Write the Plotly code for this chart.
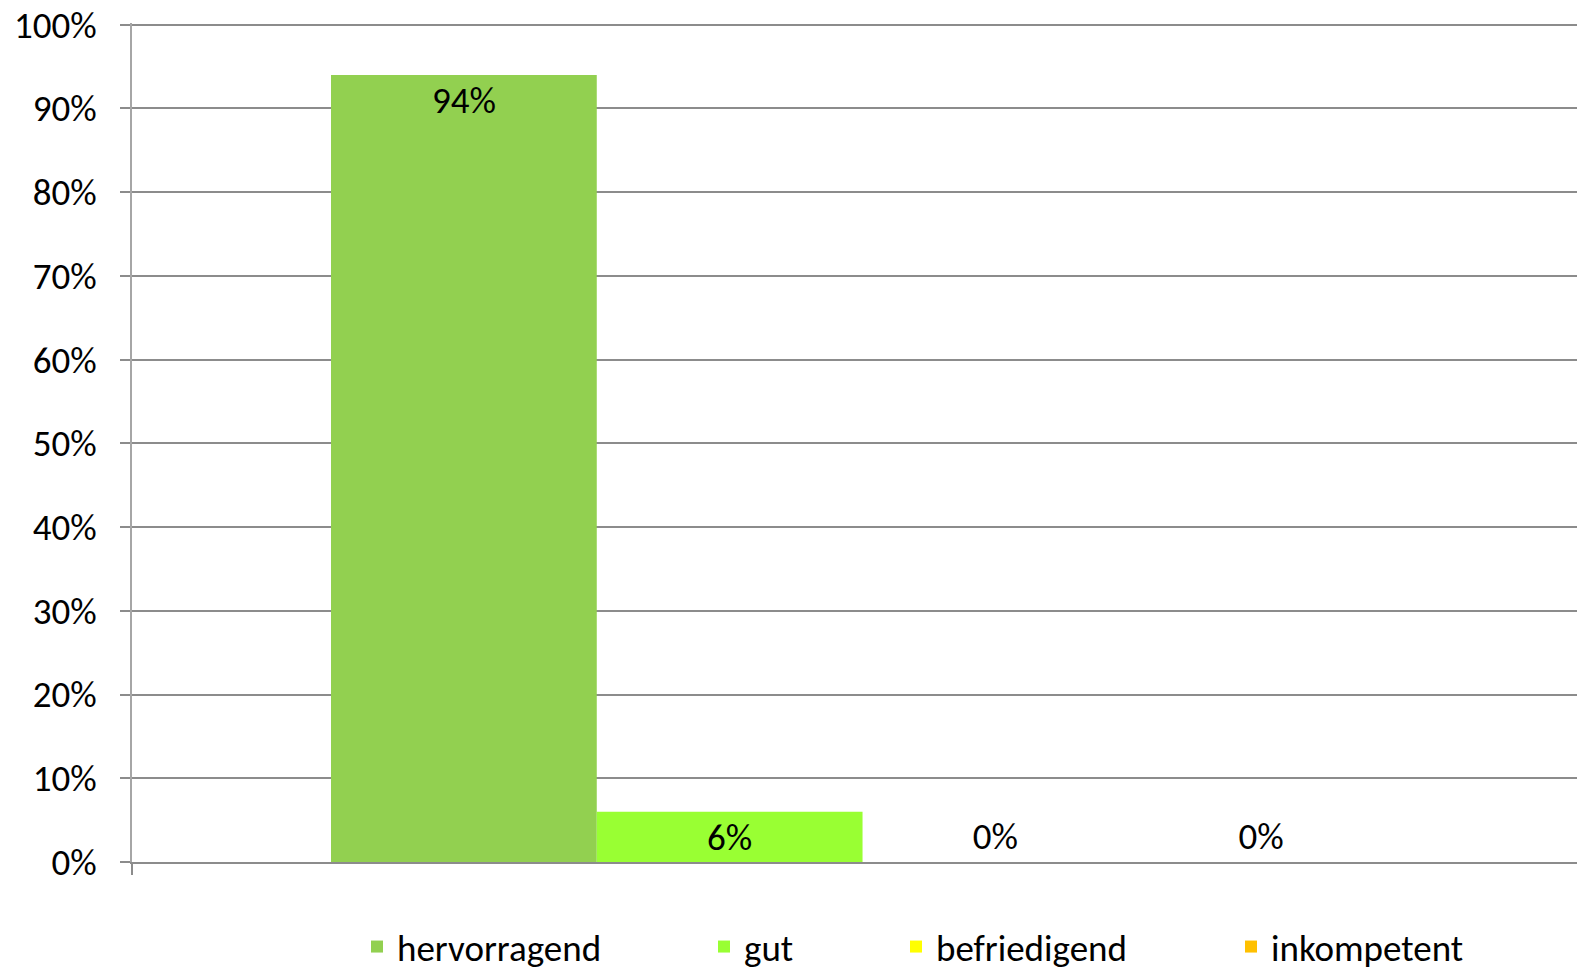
import plotly.graph_objects as go

categories = [""]
series_names = ["hervorragend", "gut", "befriedigend", "inkompetent"]
series_values = [0.94, 0.06, 0.0, 0.0]
series_colors = ["#92D050", "#99FF33", "#FFFF00", "#FFC000"]
y_ticks = [0, 0.1, 0.2, 0.3, 0.4, 0.5, 0.6, 0.7, 0.8, 0.9, 1.0]

FONT = "Carlito, Calibri, Lato, sans-serif"
FS = 37
W, H = 1577, 970
ML, MR, MT, MB = 132, 0, 23, 108
legend_text_x = [398, 745, 937, 1272]

fig = go.Figure()
legend_ids = ["legend", "legend2", "legend3", "legend4"]
for i, (name, val, col) in enumerate(zip(series_names, series_values, series_colors)):
    fig.add_trace(go.Bar(
        x=categories, y=[val], name=name,
        marker=dict(color=col, line=dict(width=0)),
        texttemplate="%{y:.0%}",
        textposition="inside" if val > 0 else "outside",
        insidetextanchor="end",
        textfont=dict(family=FONT, size=FS, color="black"),
        outsidetextfont=dict(family=FONT, size=FS, color="black"),
        insidetextfont=dict(family=FONT, size=FS, color="black"),
        cliponaxis=False,
        legend=legend_ids[i],
        showlegend=True,
        hoverinfo="skip",
    ))

pw = W - ML - MR
ph = H - MT - MB
layout_legends = {}
for i, lid in enumerate(legend_ids):
    layout_legends[lid] = dict(
        orientation="h",
        x=(legend_text_x[i] - 41 - ML) / pw,
        xanchor="left",
        y=(ph - (947 - MT)) / ph,
        yanchor="middle",
        font=dict(family=FONT, size=FS, color="black"),
        bgcolor="rgba(0,0,0,0)",
        borderwidth=0,
        itemclick=False,
        visible=True,
    )

fig.update_layout(
    width=W, height=H,
    showlegend=True,
    margin=dict(l=ML, r=MR, t=MT, b=MB, pad=0, autoexpand=False),
    paper_bgcolor="white", plot_bgcolor="white",
    barmode="group", bargap=0.2724, bargroupgap=0,
    uniformtext=dict(minsize=FS, mode="show"),
    font=dict(family=FONT, size=FS, color="black"),
    **layout_legends,
)
fig.update_xaxes(
    type="category", range=[-0.5, 0.489],
    showline=True, linecolor="#8c8c8c", linewidth=2,
    showgrid=False, zeroline=False,
    tickmode="array", tickvals=[-0.5], ticktext=[""],
    ticks="outside", ticklen=11, tickcolor="#8c8c8c", tickwidth=2,
)
fig.update_yaxes(
    range=[0, 1.002], tickvals=y_ticks, tickformat=".0%",
    showgrid=True, gridcolor="#8c8c8c", gridwidth=2,
    showline=True, linecolor="#a6a6a6", linewidth=2,
    ticks="outside", ticklen=10, tickcolor="#8c8c8c", tickwidth=2,
    ticklabelstandoff=16, zeroline=False,
    tickfont=dict(family=FONT, size=FS, color="black"),
)

fig.write_html(
    "out.html",
    config={"displayModeBar": False},
    post_script="document.body.style.margin='0';",
)
